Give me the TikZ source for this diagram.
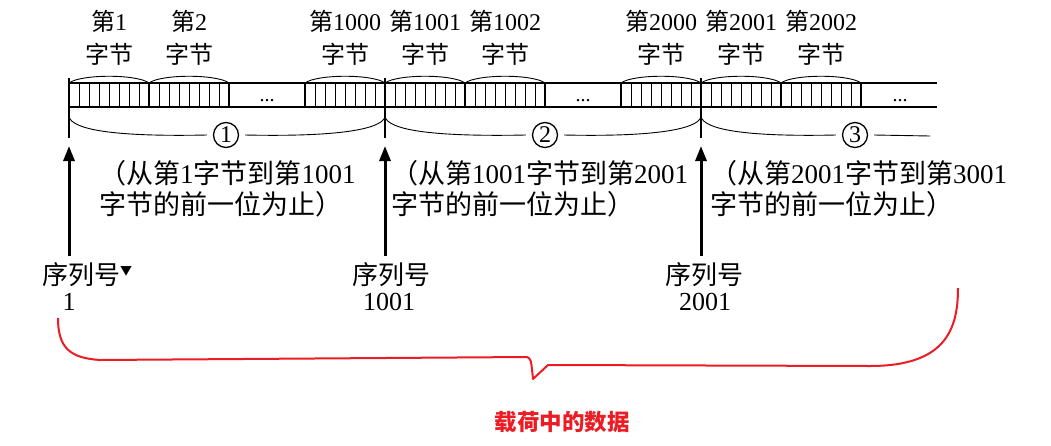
\documentclass[tikz,border=0pt]{standalone}
\usepackage{fontspec}
\setmainfont{Liberation Serif}
\newfontfamily\cjk{Noto Sans CJK SC}
\usetikzlibrary{arrows.meta}
\newcommand{\zh}[1]{{\cjk #1}}
\definecolor{markred}{RGB}{236,28,36}

\begin{document}
\begin{tikzpicture}[x=1pt,y=-1pt,
    strip/.style={line width=1.1pt},
    cell/.style={line width=0.7pt},
    sep/.style={line width=1.4pt},
    bytearc/.style={line width=0.9pt},
    brace/.style={line width=0.9pt},
    redbrace/.style={line width=2pt, draw=markred, line join=round},
    bytelabel/.style={align=center, inner sep=0pt, font=\fontsize{24}{33}\selectfont},
    spantext/.style={align=left, anchor=west, inner sep=0pt, font=\fontsize{27}{31}\selectfont},
    seqlabel/.style={inner sep=0pt, font=\fontsize{26}{30}\selectfont},
    seqarrow/.style={-{Triangle[length=15pt,width=11pt]}, line width=3pt},
    circnum/.style={circle, draw, line width=1.3pt, minimum size=25pt, inner sep=0pt, font=\fontsize{24}{24}\selectfont},
    gap/.style={anchor=base, inner sep=0pt, font=\fontsize{20}{20}\selectfont}
]
\useasboundingbox (0,0) rectangle (1051,445);

% long strip
\draw[strip] (69,83) -- (937,83);
\draw[strip] (69,107) -- (937,107);

% bytes with 8 bits each
\foreach \s/\n in {69/1, 149/2, 305/1000, 385/1001, 465/1002, 621/2000, 701/2001, 781/2002}{
    \foreach \k in {1,...,7}
        \draw[cell] (\s+10*\k,83) -- (\s+10*\k,107);
    \draw[sep] (\s,83) -- (\s,107) (\s+80,83) -- (\s+80,107);
    \draw[bytearc] (\s,83) .. controls (\s+12,74) and (\s+68,74) .. (\s+80,83);
    \node[bytelabel] (byte\n) at (\s+40,38) {\zh{第}\n\\\zh{字节}};
}
\node[gap] (gapa) at (267,101) {...};
\node[gap] (gapb) at (583,101) {...};
\node[gap] (gapc) at (900,101) {...};

% segment boundaries
\draw[sep] (69,78) -- (69,138);
\draw[sep] (385,78) -- (385,138);
\draw[sep] (701,78) -- (701,138);

% braces under the strip
\node[circnum] (sega) at (226,135) {1};
\node[circnum] (segb) at (545,135) {2};
\node[circnum] (segc) at (855,135) {3};
\draw[brace] (69,117) .. controls (73,129) and (110,137) .. ([xshift=-6pt]sega.west);
\draw[brace] ([xshift=6pt]sega.east) .. controls (340,137) and (381,129) .. (385,117);
\draw[brace] (385,117) .. controls (389,129) and (426,137) .. ([xshift=-6pt]segb.west);
\draw[brace] ([xshift=6pt]segb.east) .. controls (656,137) and (697,129) .. (701,117);
\draw[brace] (701,117) .. controls (705,129) and (742,137) .. ([xshift=-6pt]segc.west);
\coordinate (bracend) at (930,136);
\draw[brace] ([xshift=6pt]segc.east) -- (bracend);

% ranges
\node[spantext] (rangea) at (99,189) {\zh{（从第}1\zh{字节到第}1001\\\zh{字节的前一位为止）}};
\node[spantext] (rangeb) at (391,189) {\zh{（从第}1001\zh{字节到第}2001\\\zh{字节的前一位为止）}};
\node[spantext] (rangec) at (710,189) {\zh{（从第}2001\zh{字节到第}3001\\\zh{字节的前一位为止）}};

% sequence numbers
\node[seqlabel, anchor=west] (seqa) at (42,275) {\zh{序列号}\raisebox{9pt}{\fontsize{12}{12}\selectfont\zh{▼}}};
\node[seqlabel] (numa) at (69,302) {1};
\node[seqlabel] (seqb) at (391,275) {\zh{序列号}};
\node[seqlabel] (numb) at (389,302) {1001};
\node[seqlabel] (seqc) at (704,275) {\zh{序列号}};
\node[seqlabel] (numc) at (705,302) {2001};
\coordinate (taila) at (69,256);
\coordinate (tipa) at (69,146);
\coordinate (tailb) at (385,256);
\coordinate (tipb) at (385,146);
\coordinate (tailc) at (701,256);
\coordinate (tipc) at (701,146);
\draw[seqarrow] (taila) -- (tipa);
\draw[seqarrow] (tailb) -- (tipb);
\draw[seqarrow] (tailc) -- (tipc);

% payload brace
\draw[redbrace] (58,318) .. controls (58,348) and (70,358) .. (100,360)
    -- (527,357) .. controls (531,359) .. (533,379) -- (548,365) -- (870,366)
    .. controls (945,366) and (958,330) .. (958,288);
\node[font=\fontsize{22.5}{22.5}\selectfont\cjk\bfseries, text=markred] (payload) at (562,422) {载荷中的数据};
\end{tikzpicture}
\end{document}
